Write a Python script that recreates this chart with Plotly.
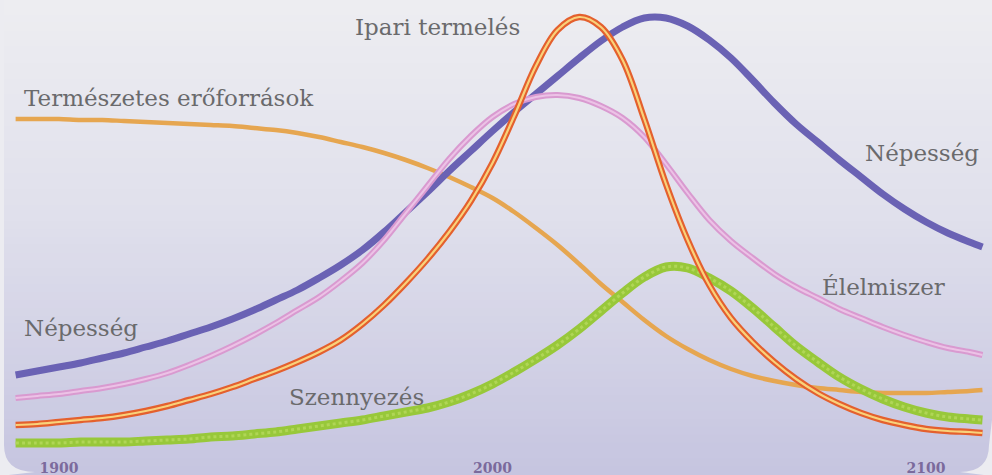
import plotly.graph_objects as go

years = [1890, 1895, 1900, 1905, 1910, 1915, 1920, 1925, 1930, 1935,
         1940, 1945, 1950, 1955, 1960, 1965, 1970, 1975, 1980, 1985,
         1990, 1995, 2000, 2005, 2010, 2015, 2020, 2025, 2030, 2035,
         2040, 2045, 2050, 2055, 2060, 2065, 2070, 2075, 2080, 2085,
         2090, 2095, 2100, 2105, 2110, 2113]

nepesseg = [100, 104, 108, 112, 117, 122, 128, 134, 141, 148,
            156, 165, 175, 185, 197, 210, 225, 243, 263, 283,
            304, 324, 344, 363, 381, 399, 417, 434, 448, 457,
            457, 449, 435, 417, 395, 372, 351, 333, 315, 298,
            281, 266, 253, 242, 233, 228]
elelmiszer = [77, 79, 81, 84, 87, 91, 96, 102, 110, 119,
              129, 140, 152, 165, 178, 194, 212, 235, 262, 289,
              316, 339, 358, 371, 378, 380, 377, 369, 357, 338,
              311, 282, 255, 234, 217, 201, 188, 177, 166, 157,
              148, 140, 133, 127, 123, 120]
ipari = [50, 51, 53, 55, 57, 60, 64, 69, 75, 81,
         88, 96, 104, 113, 123, 135, 151, 170, 192, 216,
         243, 274, 312, 359, 409, 445, 458, 448, 415, 356,
         291, 235, 190, 157, 133, 113, 96, 82, 71, 62,
         55, 50, 46, 44, 43, 42]
eroforras = [356, 356, 356, 355, 355, 354, 353, 352, 351, 350,
             349, 347, 345, 342, 338, 333, 328, 322, 315, 307,
             298, 288, 277, 263, 247, 230, 211, 191, 173, 155,
             139, 126, 115, 106, 99, 94, 90, 87, 85, 83,
             82, 82, 82, 83, 84, 85]
szennyezes = [32, 32, 32, 33, 33, 33, 34, 35, 36, 38,
              39, 41, 43, 46, 49, 52, 55, 59, 63, 67,
              73, 81, 91, 103, 116, 130, 146, 164, 182, 198,
              208, 207, 197, 184, 167, 148, 129, 113, 98, 86,
              76, 68, 62, 58, 56, 55]

tick_vals = [1900, 2000, 2100]
tick_text = ["1900", "2000", "2100"]

labels = [
    ("Természetes erőforrások", 1891.5, 377, "left"),
    ("Ipari termelés", 2006.8, 448, "right"),
    ("Népesség", 2085.5, 322, "left"),
    ("Élelmiszer", 2075.6, 188, "left"),
    ("Népesség", 1891.5, 147, "left"),
    ("Szennyezés", 1952.6, 78, "left"),
]

fig = go.Figure()

def line(y, color, width, dash=None):
    fig.add_trace(go.Scatter(
        x=years, y=y, mode="lines",
        line=dict(color=color, width=width, shape="spline", smoothing=1.0, dash=dash),
        hoverinfo="skip", showlegend=False))

line(eroforras, "#e6a650", 4.5)
line(nepesseg, "#6a62b4", 7)
line(elelmiszer, "#d99ad0", 6)
line(elelmiszer, "#ecc2e6", 2)
line(szennyezes, "#98c83a", 9)
line(szennyezes, "#b0d656", 3, dash="dot")
line(ipari, "#e4602e", 6.5)
line(ipari, "#f9d27a", 2.2)

W, H, B = 992, 475, 20
PH = H - B


def px(x):
    return x / W


def py(y):
    return (PH - y) / PH


# background gradient bands
shapes = []
n = 60
top = (237, 237, 241)
mid = (224, 224, 236)
bot = (198, 197, 224)
for i in range(n):
    t = i / (n - 1)
    if t < 0.45:
        u = t / 0.45
        c = tuple(round(top[k] + (mid[k] - top[k]) * u) for k in range(3))
    else:
        u = (t - 0.45) / 0.55
        c = tuple(round(mid[k] + (bot[k] - mid[k]) * u) for k in range(3))
    ya = H * i / n
    yb = H * (i + 1) / n
    shapes.append(dict(type="rect", xref="paper", yref="paper", x0=-0.01, x1=1.01,
                       y0=py(yb) - 0.002, y1=py(ya) + 0.002,
                       fillcolor="rgb(%d,%d,%d)" % c, line=dict(width=0), layer="below"))

# light rounded corners / edge of the card
corner = "rgb(236,236,241)"
shapes.append(dict(type="path", xref="paper", yref="paper", layer="below",
                   path="M %f,%f L %f,%f L %f,%f Q %f,%f %f,%f L %f,%f Z" % (
                       px(0), py(0), px(4), py(0), px(4), py(445),
                       px(4), py(472), px(35), py(472), px(0), py(476)),
                   fillcolor=corner, line=dict(width=0)))
shapes.append(dict(type="path", xref="paper", yref="paper", layer="below",
                   path="M %f,%f L %f,%f Q %f,%f %f,%f L %f,%f Z" % (
                       px(992), py(420), px(989), py(445), px(989), py(472),
                       px(960), py(472), px(992), py(476)),
                   fillcolor=corner, line=dict(width=0)))

fig.update_layout(
    width=W, height=H,
    margin=dict(l=0, r=0, t=0, b=B),
    paper_bgcolor="rgb(198,197,224)",
    plot_bgcolor="rgba(0,0,0,0)",
    shapes=shapes,
    xaxis=dict(range=[1886.4, 2115.2], showgrid=False, zeroline=False, showline=False,
               tickvals=tick_vals, ticktext=tick_text, ticks="",
               tickfont=dict(family="DejaVu Serif", size=14, color="#7b6a9c", weight="bold"),
               ticklabelstandoff=3),
    yaxis=dict(range=[20, 475], visible=False),
)

for text, x, y, anchor in labels:
    fig.add_annotation(x=x, y=y, text=text, showarrow=False, xanchor=anchor, yanchor="middle",
                       font=dict(family="DejaVu Serif", size=23, color="#6a6a6c"))

fig.write_html("out.html", config={"displayModeBar": False},
               post_script="document.body.style.margin='0';")
